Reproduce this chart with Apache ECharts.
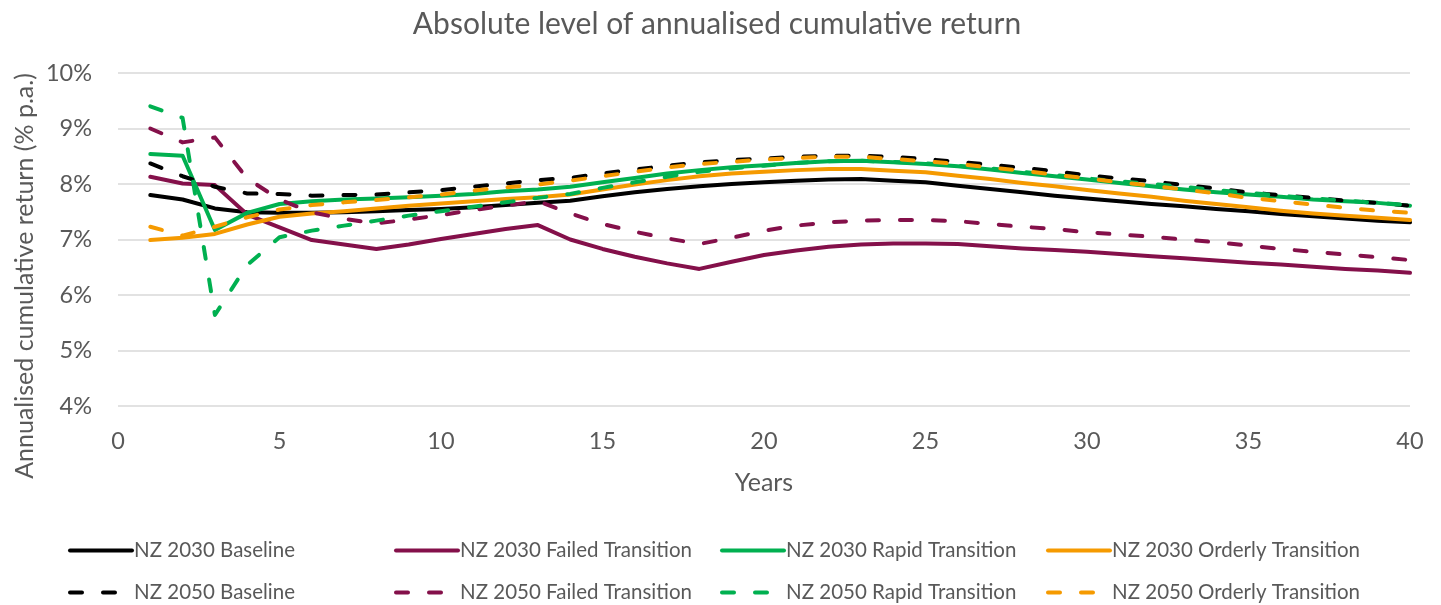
<!DOCTYPE html>
<html>
<head>
<meta charset="utf-8">
<script src="https://cdn.jsdelivr.net/npm/echarts@6/dist/echarts.min.js"></script>
<style>
html,body{margin:0;padding:0;background:#fff;}
#chart{width:1441px;height:605px;}
</style>
</head>
<body>
<div id="chart"></div>
<script>
const years = [1,2,3,4,5,6,7,8,9,10,11,12,13,14,15,16,17,18,19,20,21,22,23,24,25,26,27,28,29,30,31,32,33,34,35,36,37,38,39,40];

const nz2030Baseline = [7.80,7.72,7.56,7.49,7.48,7.48,7.49,7.51,7.53,7.55,7.58,7.62,7.66,7.70,7.78,7.85,7.91,7.96,8.00,8.03,8.06,8.08,8.09,8.06,8.03,7.97,7.91,7.85,7.79,7.74,7.69,7.64,7.60,7.55,7.51,7.46,7.42,7.38,7.34,7.31];
const nz2030Failed = [8.13,8.01,7.98,7.45,7.22,6.99,6.91,6.83,6.91,7.01,7.10,7.19,7.26,7.00,6.83,6.69,6.57,6.47,6.60,6.72,6.80,6.87,6.91,6.93,6.93,6.92,6.88,6.84,6.81,6.78,6.74,6.70,6.66,6.62,6.58,6.55,6.51,6.47,6.44,6.40];
const nz2030Rapid = [8.54,8.51,7.17,7.48,7.64,7.69,7.72,7.74,7.76,7.79,7.82,7.87,7.90,7.95,8.03,8.11,8.19,8.25,8.30,8.34,8.38,8.41,8.42,8.39,8.36,8.32,8.26,8.20,8.14,8.08,8.02,7.96,7.90,7.85,7.81,7.77,7.72,7.69,7.66,7.61];
const nz2030Orderly = [6.99,7.03,7.10,7.27,7.41,7.47,7.51,7.56,7.61,7.65,7.69,7.73,7.76,7.81,7.90,7.99,8.07,8.14,8.19,8.22,8.25,8.27,8.27,8.24,8.21,8.15,8.09,8.02,7.96,7.89,7.83,7.77,7.70,7.64,7.58,7.52,7.47,7.43,7.39,7.35];
const nz2050Baseline = [8.37,8.14,7.95,7.83,7.82,7.79,7.80,7.81,7.85,7.89,7.95,8.01,8.07,8.11,8.19,8.26,8.33,8.39,8.43,8.46,8.49,8.51,8.51,8.49,8.45,8.40,8.35,8.29,8.23,8.16,8.10,8.05,7.98,7.92,7.85,7.80,7.75,7.70,7.66,7.61];
const nz2050Failed = [9.00,8.75,8.84,8.10,7.72,7.49,7.37,7.29,7.36,7.44,7.53,7.61,7.69,7.47,7.28,7.14,7.02,6.92,7.03,7.16,7.25,7.31,7.34,7.35,7.35,7.33,7.28,7.23,7.19,7.13,7.09,7.05,7.00,6.95,6.89,6.83,6.78,6.73,6.68,6.63];
const nz2050Rapid = [9.40,9.19,5.64,6.54,7.04,7.16,7.25,7.34,7.43,7.51,7.59,7.67,7.75,7.82,7.93,8.03,8.13,8.22,8.28,8.33,8.38,8.41,8.42,8.40,8.37,8.33,8.28,8.22,8.16,8.10,8.05,8.00,7.95,7.89,7.84,7.79,7.74,7.70,7.66,7.62];
const nz2050Orderly = [7.23,7.07,7.23,7.40,7.54,7.62,7.67,7.71,7.76,7.81,7.88,7.94,7.99,8.06,8.14,8.22,8.30,8.36,8.40,8.44,8.47,8.49,8.49,8.45,8.41,8.36,8.30,8.24,8.17,8.10,8.03,7.97,7.90,7.83,7.75,7.69,7.63,7.57,7.52,7.48];

const seriesNames = ['NZ 2030 Baseline','NZ 2030 Failed Transition','NZ 2030 Rapid Transition','NZ 2030 Orderly Transition','NZ 2050 Baseline','NZ 2050 Failed Transition','NZ 2050 Rapid Transition','NZ 2050 Orderly Transition'];
const seriesValues = [nz2030Baseline,nz2030Failed,nz2030Rapid,nz2030Orderly,nz2050Baseline,nz2050Failed,nz2050Rapid,nz2050Orderly];
const seriesColors = ['#000000','#84104A','#00B050','#F59A00','#000000','#84104A','#00B050','#F59A00'];
const seriesDashed = [false,false,false,false,true,true,true,true];

const yTicks = {min:4, max:10, interval:1};
const xTicks = {min:0, max:40, interval:5};

const FONT = 'Lato';
const GRAY = '#595959';

const chart = echarts.init(document.getElementById('chart'), null, {renderer:'canvas'});

const series = seriesNames.map((name, i) => ({
  name: name,
  type: 'line',
  data: years.map((y, k) => [y, seriesValues[i][k]]),
  showSymbol: false,
  symbol: 'none',
  smooth: false,
  color: seriesColors[i],
  lineStyle: {
    color: seriesColors[i],
    width: 4,
    type: seriesDashed[i] ? [12, 21] : 'solid',
    cap: 'round',
    join: 'round'
  },
  emphasis: {disabled: true},
  z: 2 + i
}));

const colX = [68, 394, 720, 1046];
const rowY = [548, 590];
const legends = seriesNames.map((name, i) => ({
  data: [name],
  left: colX[i % 4],
  top: rowY[Math.floor(i / 4)] - 8,
  itemWidth: 62,
  itemHeight: 16,
  padding: 0,
  selectedMode: false,
  itemStyle: {opacity: 0},
  lineStyle: {width: 4, cap: 'round'},
  textStyle: {fontFamily: FONT, fontSize: 20.5, color: GRAY, padding: [0,0,0,-3]}
}));

chart.setOption({
  backgroundColor: '#ffffff',
  animation: false,
  title: {
    text: 'Absolute level of annualised cumulative return',
    left: 712,
    textAlign: 'center',
    top: 4,
    textStyle: {fontFamily: FONT, fontSize: 30, fontWeight: 'normal', color: GRAY}
  },
  legend: legends,
  graphic: [{
    type: 'text',
    x: 25,
    y: 276,
    rotation: Math.PI / 2,
    style: {
      text: 'Annualised cumulative return (% p.a.)',
      x: 0, y: 0,
      align: 'center',
      verticalAlign: 'middle',
      fontFamily: FONT,
      fontSize: 25,
      fill: GRAY
    }
  }],
  grid: {left: 118, right: 31, top: 73, bottom: 199, containLabel: false},
  xAxis: {
    type: 'value',
    min: xTicks.min, max: xTicks.max, interval: xTicks.interval,
    name: 'Years',
    nameLocation: 'middle',
    nameGap: 64,
    nameTextStyle: {fontFamily: FONT, fontSize: 25, color: GRAY},
    axisLine: {show: false},
    axisTick: {show: false},
    splitLine: {show: false},
    axisLabel: {fontFamily: FONT, fontSize: 23.5, color: GRAY, margin: 23}
  },
  yAxis: {
    type: 'value',
    min: yTicks.min, max: yTicks.max, interval: yTicks.interval,
    axisLine: {show: false},
    axisTick: {show: false},
    splitLine: {show: true, lineStyle: {color: '#D9D9D9', width: 1.5}},
    axisLabel: {fontFamily: FONT, fontSize: 23.5, color: GRAY, margin: 26, formatter: '{value}%'}
  },
  series: series
});
</script>
</body>
</html>
